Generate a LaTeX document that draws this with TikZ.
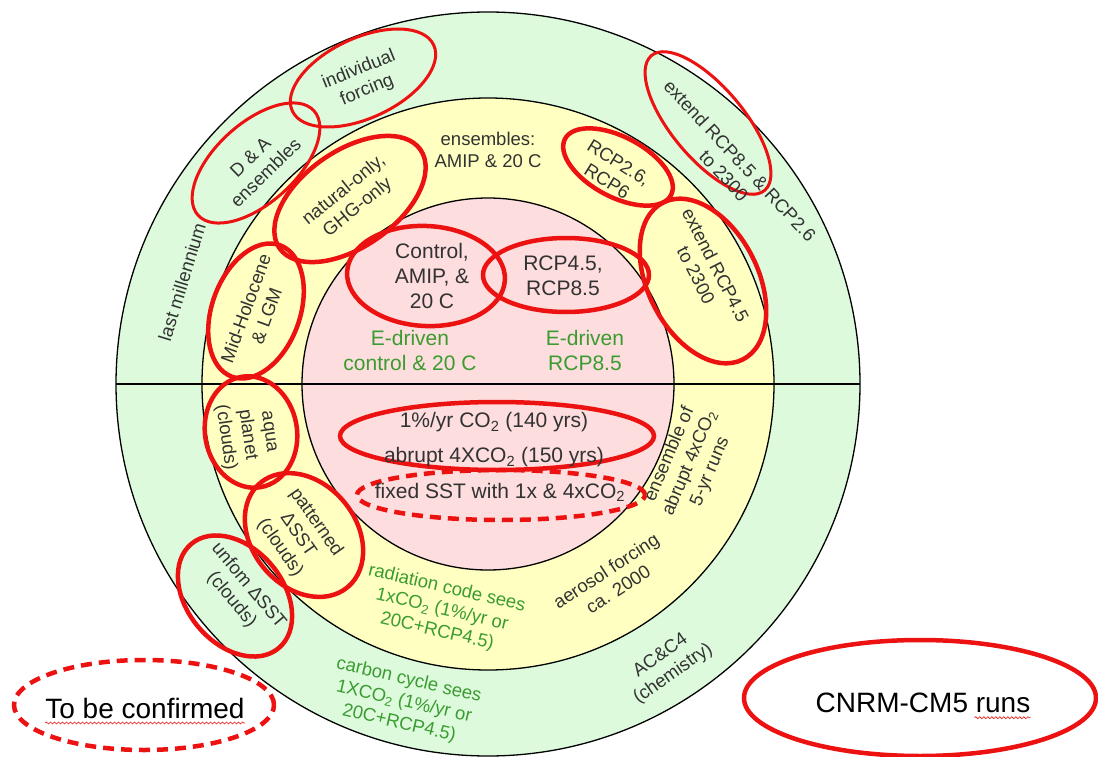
\documentclass[tikz,border=0pt]{standalone}
\usepackage{fontspec}
\setmainfont{Liberation Sans}
\usetikzlibrary{shapes.geometric,decorations.pathmorphing}
\definecolor{ringgreen}{RGB}{221,250,221}
\definecolor{ringyellow}{RGB}{255,255,194}
\definecolor{ringpink}{RGB}{253,221,221}
\definecolor{runred}{RGB}{236,18,18}
\definecolor{labelgray}{RGB}{50,50,50}
\definecolor{labelgreen}{RGB}{58,156,48}

\begin{document}
\begin{tikzpicture}[
    x=1pt, y=-1pt,
    ring/.style={circle, draw=black, line width=1.3pt, inner sep=0pt, outer sep=0pt},
    runs/.style={ellipse, draw=runred, line width=4.5pt, inner sep=0pt},
    thinruns/.style={runs, line width=3pt},
    tbcruns/.style={runs, dash pattern=on 11pt off 7pt},
    lbl/.style={align=center, text=labelgray, inner sep=0pt, font=\fontsize{18.5}{22}\selectfont},
    biglbl/.style={lbl, font=\fontsize{21}{25}\selectfont},
    glbl/.style={lbl, text=labelgreen},
    legend/.style={inner sep=0pt, text=black, font=\fontsize{28}{32}\selectfont},
    squiggle/.style={draw=runred, line width=0.6pt, decorate, decoration={snake, amplitude=1pt, segment length=4pt}}
]
\useasboundingbox (0,0) rectangle (1098,757);

\node[ring, fill=ringgreen, minimum size=744pt] (outer) at (488,384) {};
\node[ring, fill=ringyellow, minimum size=572pt] (middle) at (outer) {};
\node[ring, fill=ringpink, minimum size=372pt] (inner) at (outer) {};
\draw[line width=1.3pt] (outer.west) -- (outer.east);

\node[thinruns, minimum width=156pt, minimum height=80pt, rotate=25] (indiv) at (363,78) {};
\node[thinruns, minimum width=156pt, minimum height=80pt, rotate=42] (dna) at (256,163) {};
\node[runs, minimum width=172pt, minimum height=96pt, rotate=35] (natonly) at (350,199) {};
\node[runs, minimum width=140pt, minimum height=88pt, rotate=70] (midhol) at (256,311) {};
\node[runs, minimum width=112pt, minimum height=92pt, rotate=-80] (aqua) at (251,432) {};
\node[runs, minimum width=136pt, minimum height=104pt, rotate=-50] (pattsst) at (304,535) {};
\node[runs, minimum width=136pt, minimum height=96pt, rotate=-50] (unisst) at (235,596) {};
\node[runs, minimum width=158pt, minimum height=100pt, rotate=-3] (control) at (426,276) {};
\node[runs, minimum width=166pt, minimum height=74pt] (rcpmid) at (566,275) {};
\node[runs, minimum width=120pt, minimum height=60pt, rotate=-28] (rcplow) at (618,167) {};
\node[runs, minimum width=176pt, minimum height=110pt, rotate=-63] (ext45) at (703,281) {};
\node[thinruns, minimum width=176pt, minimum height=72pt, rotate=-50] (ext85) at (708,123) {};
\node[runs, minimum width=314pt, minimum height=68pt] (abrupt) at (497,436) {};
\node[tbcruns, minimum width=288pt, minimum height=50pt] (fixsst) at (501,495) {};

\node[lbl, rotate=22] (indiv-t) at (363,80) {individual\\forcing};
\node[lbl, rotate=44] (dna-t) at (258,165) {D \& A\\ensembles};
\node[lbl, rotate=39] (natonly-t) at (351,199) {natural-only,\\GHG-only};
\node[lbl, rotate=70] (midhol-t) at (256,312) {Mid-Holocene\\\& LGM};
\node[lbl] (amip-t) at (488,150) {ensembles:\\AMIP \& 20 C};
\node[lbl, rotate=73] (lastmil-t) at (182,282) {last millennium};
\node[biglbl] (control-t) at (432,276) {Control,\\AMIP, \&\\20 C};
\node[biglbl] (rcpmid-t) at (563,276) {RCP4.5,\\RCP8.5};
\node[biglbl, text=labelgreen] (edrvctl-t) at (410,350) {E-driven\\control \& 20 C};
\node[biglbl, text=labelgreen] (edrvrcp-t) at (585,350) {E-driven\\RCP8.5};
\node[lbl, rotate=-32] (rcplow-t) at (613,172) {RCP2.6,\\RCP6};
\node[lbl, rotate=-47] (ext85-t) at (732,168) {extend RCP8.5 \& RCP2.6\\to 2300};
\node[lbl, rotate=-63] (ext45-t) at (706,270) {extend RCP4.5\\to 2300};
\node[lbl, rotate=-82] (aqua-t) at (246,435) {aqua\\planet\\(clouds)};
\node[lbl, rotate=-55] (pattsst-t) at (298,535) {patterned\\ΔSST\\(clouds)};
\node[lbl, rotate=-50] (unisst-t) at (240,593) {unfom ΔSST\\(clouds)};
\node[biglbl, font=\fontsize{21}{35}\selectfont] (abrupt-t) at (494,440) {1\%/yr CO\textsubscript{2} (140 yrs)\\abrupt 4XCO\textsubscript{2} (150 yrs)};
\node[biglbl] (fixsst-t) at (500,492) {fixed SST with 1x \& 4xCO\textsubscript{2}};
\node[lbl, rotate=67] (ens-t) at (690,463) {ensemble of\\abrupt 4xCO\textsubscript{2}\\5-yr runs};
\node[lbl, rotate=33] (aer-t) at (612,580) {aerosol forcing\\ca. 2000};
\node[lbl, rotate=35] (chem-t) at (667,665) {AC\&C4\\(chemistry)};
\node[glbl, rotate=-13] (rad-t) at (442,610) {radiation code sees\\1xCO\textsubscript{2} (1\%/yr or\\20C+RCP4.5)};
\node[glbl, rotate=-13] (carb-t) at (404,702) {carbon cycle sees\\1XCO\textsubscript{2} (1\%/yr or\\20C+RCP4.5)};

\node[tbcruns, minimum width=260pt, minimum height=90pt] (tbc) at (144,705) {};
\node[legend] (tbc-t) at (145,708) {To be confirmed};
\node[runs, minimum width=352pt, minimum height=116pt] (cnrm) at (920,698) {};
\node[legend] (cnrm-t) at (923,703) {CNRM-CM5 runs};
\draw[squiggle] ([yshift=-5pt]tbc-t.base west) -- ([yshift=-5pt]tbc-t.base east);
\draw[squiggle] ([xshift=-56pt,yshift=-5pt]cnrm-t.base east) -- ([yshift=-5pt]cnrm-t.base east);

\end{tikzpicture}
\end{document}
